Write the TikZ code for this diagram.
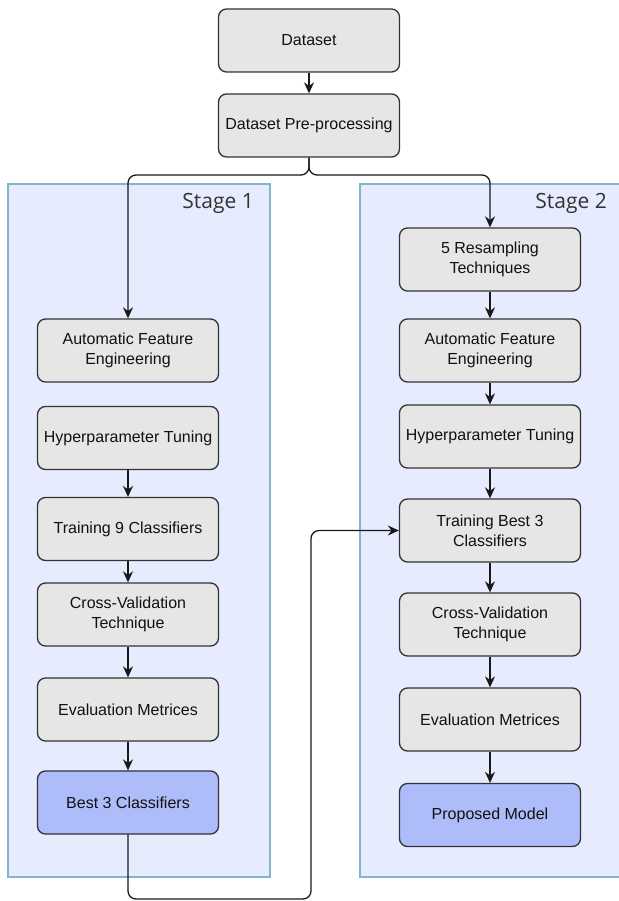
\documentclass[tikz,border=0pt]{standalone}
\usepackage{fontspec}
\setmainfont{Liberation Sans}
\newfontfamily\stagefont{Open Sans}
\usetikzlibrary{arrows.meta}
\definecolor{panelfill}{HTML}{E6EBFD}
\definecolor{panelline}{HTML}{82B5CB}
\definecolor{boxfill}{HTML}{E6E6E6}
\definecolor{boxline}{HTML}{333333}
\definecolor{bluefill}{HTML}{AEBDF9}
\definecolor{txt}{HTML}{111111}
\begin{document}
\begin{tikzpicture}[x=1pt,y=-1pt,
  stepbox/.style={draw=boxline, line width=1.3pt, fill=boxfill, rounded corners=8pt, minimum width=181pt, minimum height=63pt, align=center, font=\fontsize{16}{20}\selectfont, text=txt, inner sep=0pt},
  bluebox/.style={stepbox, fill=bluefill},
  panel/.style={draw=panelline, line width=1.3pt, fill=panelfill},
  conn/.style={draw=black!90, line width=1.3pt, rounded corners=8pt, -{Stealth[length=11pt,width=10pt]}},
  stagelabel/.style={font=\stagefont\fontsize{21}{25}\selectfont, text=black!80, anchor=east, inner sep=0pt}]
\useasboundingbox (0,0) rectangle (618,901);
\path[panel] (8,184) rectangle (270,877);
\path[panel] (360,184) rectangle (630,877);
\node[stagelabel] (s1) at (254,203) {Stage 1};
\node[stagelabel] (s2) at (607,203) {Stage 2};

\node[stepbox] (ds) at (309,40.5) {Dataset};
\node[stepbox] (pre) at (309,125.5) {Dataset Pre-processing};

\node[stepbox] (afe1) at (128,350.5) {Automatic Feature\\Engineering};
\node[stepbox] (hp1) at (128,438) {Hyperparameter Tuning};
\node[stepbox] (tr1) at (128,529) {Training 9 Classifiers};
\node[stepbox] (cv1) at (128,614.5) {Cross-Validation\\Technique};
\node[stepbox] (ev1) at (128,709.5) {Evaluation Metrices};
\node[bluebox] (b3) at (128,802.5) {Best 3 Classifiers};

\node[stepbox] (rs) at (490,259.5) {5 Resampling\\Techniques};
\node[stepbox] (afe2) at (490,350.5) {Automatic Feature\\Engineering};
\node[stepbox] (hp2) at (490,436.5) {Hyperparameter Tuning};
\node[stepbox] (tr2) at (490,530.5) {Training Best 3\\Classifiers};
\node[stepbox] (cv2) at (490,624.5) {Cross-Validation\\Technique};
\node[stepbox] (ev2) at (490,719.5) {Evaluation Metrices};
\node[bluebox] (pm) at (490,815) {Proposed Model};

\coordinate (split) at (309,175);
\coordinate (c1) at (128,899);
\coordinate (c2) at (311,899);

\draw[conn] (ds) -- (pre);
\draw[conn] (pre.south) -- (split) -| (afe1.north);
\draw[conn] (pre.south) -- (split) -| (rs.north);

\draw[conn] (hp1) -- (tr1);
\draw[conn] (tr1) -- (cv1);
\draw[conn] (cv1) -- (ev1);
\draw[conn] (ev1) -- (b3);
\draw[conn] (b3.south) -- (c1) -- (c2) |- (tr2.west);

\draw[conn] (rs) -- (afe2);
\draw[conn] (afe2) -- (hp2);
\draw[conn] (hp2) -- (tr2);
\draw[conn] (tr2) -- (cv2);
\draw[conn] (cv2) -- (ev2);
\draw[conn] (ev2) -- (pm);
\end{tikzpicture}
\end{document}
